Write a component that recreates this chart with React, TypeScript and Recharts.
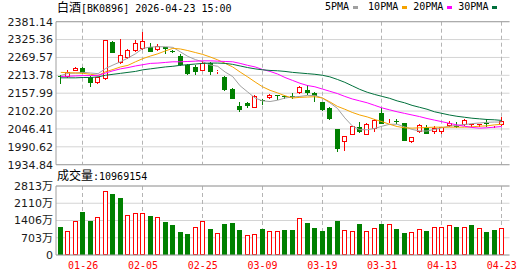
import { ComposedChart, Bar, Line, XAxis, YAxis, CartesianGrid, ReferenceLine, Legend } from 'recharts'

// trading days shown (MM-DD), 2026
const dates = [
  '01-21', '01-22', '01-23', '01-26', '01-27', '01-28', '01-29', '01-30', '02-02', '02-03',
  '02-04', '02-05', '02-06', '02-09', '02-10', '02-11', '02-12', '02-13', '02-24', '02-25',
  '02-26', '02-27', '03-02', '03-03', '03-04', '03-05', '03-06', '03-09', '03-10', '03-11',
  '03-12', '03-13', '03-16', '03-17', '03-18', '03-19', '03-20', '03-23', '03-24', '03-25',
  '03-26', '03-27', '03-30', '03-31', '04-01', '04-02', '04-03', '04-07', '04-08', '04-09',
  '04-10', '04-13', '04-14', '04-15', '04-16', '04-17', '04-20', '04-21', '04-22', '04-23'
]

const opens = [
  2212, 2208, 2228, 2237, 2210, 2189, 2202, 2317, 2253, 2269,
  2290, 2296, 2301, 2292, 2301, 2291, 2274, 2246, 2239, 2228,
  2251, 2223, 2209, 2171, 2118, 2128, 2113, 2136, 2142, 2152,
  2148, 2150, 2158, 2167, 2158, 2130, 2113, 2047, 2007, 2028,
  2052, 2028, 2046, 2097, 2079, 2072, 2065, 2007, 2036, 2049,
  2036, 2038, 2055, 2057, 2058, 2061, 2062, 2066, 2057, 2059
]
const highs = [
  2215, 2229, 2241, 2240, 2212, 2209, 2325, 2320, 2326, 2297,
  2323, 2348, 2314, 2313, 2303, 2292, 2280, 2248, 2245, 2260,
  2255, 2230, 2212, 2173, 2130, 2131, 2153, 2139, 2154, 2153,
  2153, 2160, 2182, 2184, 2161, 2131, 2116, 2047, 2024, 2057,
  2068, 2066, 2078, 2112, 2082, 2078, 2066, 2022, 2062, 2058,
  2056, 2054, 2070, 2068, 2077, 2062, 2063, 2077, 2060, 2083
]
const lows = [
  2188, 2205, 2226, 2218, 2177, 2187, 2200, 2282, 2250, 2266,
  2288, 2294, 2287, 2290, 2280, 2282, 2244, 2215, 2215, 2226,
  2215, 2218, 2166, 2139, 2100, 2113, 2111, 2120, 2140, 2137,
  2140, 2140, 2156, 2153, 2132, 2103, 2075, 1974, 1979, 2026,
  2033, 2026, 2036, 2062, 2066, 2062, 2010, 2002, 2034, 2030,
  2030, 2030, 2053, 2049, 2056, 2051, 2052, 2053, 2049, 2057
]
const closes = [
  2208, 2224, 2237, 2222, 2191, 2208, 2324, 2285, 2276, 2292,
  2314, 2321, 2288, 2306, 2295, 2289, 2246, 2218, 2223, 2251,
  2223, 2228, 2168, 2139, 2106, 2117, 2150, 2134, 2153, 2150,
  2146, 2148, 2178, 2160, 2150, 2106, 2077, 1984, 2024, 2056,
  2036, 2063, 2074, 2063, 2081, 2070, 2010, 2022, 2060, 2031,
  2049, 2052, 2066, 2055, 2075, 2062, 2063, 2064, 2058, 2071
]

const ma5 = [
  2213, 2220, 2221, 2223, 2221, 2219, 2235, 2246, 2256, 2268,
  2281, 2298, 2302, 2303, 2303, 2301, 2287, 2273, 2263, 2256,
  2246, 2242, 2224, 2210, 2181, 2162, 2143, 2134, 2132, 2136,
  2143, 2146, 2148, 2151, 2151, 2143, 2128, 2111, 2081, 2056,
  2044, 2044, 2048, 2055, 2061, 2061, 2053, 2045, 2040, 2040,
  2045, 2050, 2055, 2058, 2060, 2063, 2065, 2067, 2068, 2068
]
const ma10 = [
  2223, 2222, 2221, 2220, 2217, 2213, 2225, 2232, 2240, 2245,
  2256, 2266, 2274, 2281, 2290, 2298, 2296, 2291, 2285, 2279,
  2271, 2262, 2251, 2240, 2224, 2209, 2193, 2178, 2167, 2159,
  2150, 2143, 2145, 2146, 2147, 2143, 2131, 2117, 2108, 2098,
  2090, 2084, 2076, 2069, 2061, 2054, 2050, 2049, 2050, 2051,
  2052, 2052, 2052, 2052, 2052, 2053, 2055, 2056, 2059, 2061
]
const ma20 = [
  2210, 2211, 2212, 2213, 2213, 2214, 2221, 2228, 2234, 2238,
  2243, 2247, 2251, 2252, 2254, 2256, 2256, 2257, 2258, 2259,
  2259, 2258, 2257, 2256, 2251, 2245, 2240, 2232, 2226, 2218,
  2207, 2198, 2189, 2182, 2178, 2171, 2164, 2157, 2148, 2140,
  2134, 2128, 2120, 2112, 2106, 2100, 2095, 2090, 2085, 2079,
  2074, 2069, 2064, 2059, 2055, 2051, 2049, 2050, 2052, 2054
]
const ma30 = [
  2206, 2206, 2206, 2207, 2207, 2209, 2214, 2217, 2220, 2223,
  2226, 2231, 2234, 2237, 2240, 2242, 2245, 2247, 2249, 2251,
  2252, 2252, 2251, 2248, 2243, 2238, 2234, 2231, 2229, 2228,
  2226, 2223, 2221, 2219, 2217, 2214, 2209, 2201, 2192, 2181,
  2170, 2161, 2154, 2148, 2142, 2134, 2128, 2120, 2114, 2108,
  2100, 2095, 2090, 2086, 2083, 2080, 2078, 2076, 2075, 2073
]

// volume in 万
const volumes = [
  1141, 966, 1386, 1753, 1386, 1536, 2596, 2487, 2324, 1631,
  1699, 1699, 1590, 1536, 1345, 1223, 951, 856, 1128, 1386,
  1060, 897, 1264, 1305, 1019, 815, 856, 1060, 966, 966,
  1019, 1019, 1496, 1305, 1101, 978, 1141, 1386, 1006, 966,
  1264, 966, 1087, 1264, 1250, 1060, 897, 938, 1046, 978,
  1128, 1128, 1209, 1141, 1128, 1209, 1087, 932, 1019, 1097
]
// 1 = close above previous close (red), 0 = below (green)
const volUp = [
  0, 1, 1, 0, 0, 1, 1, 0, 0, 1,
  1, 1, 0, 1, 0, 0, 0, 0, 1, 1,
  0, 1, 0, 0, 0, 1, 1, 0, 1, 1,
  0, 0, 1, 0, 0, 0, 0, 0, 1, 1,
  0, 1, 1, 0, 1, 0, 0, 1, 1, 0,
  1, 1, 1, 0, 1, 0, 1, 0, 0, 1
]

const priceTicks = [1934.84, 1990.62, 2046.41, 2102.2, 2157.99, 2213.78, 2269.57, 2325.36, 2381.14]
const volTicks = [0, 703, 1406, 2110, 2813]
const dateTicks = ['01-26', '02-05', '02-25', '03-09', '03-19', '03-31', '04-13', '04-23']
const lastVolume = 10969154

const PRICE_MIN = priceTicks[0]
const PRICE_MAX = priceTicks[priceTicks.length - 1]
const VOL_MAX = volTicks[volTicks.length - 1]

const RED = '#ff0000'
const GREEN = '#008000'
const GRID = '#d4d4d4'
const DASH = '#b4b4b4'
const BORDER = '#a0a0a0'
const MONO = "'DejaVu Sans Mono', 'Noto Sans CJK SC', monospace"

const maSeries = [
  { key: 'ma5', name: '5PMA', color: '#a0a0a0' },
  { key: 'ma10', name: '10PMA', color: '#f5a300' },
  { key: 'ma20', name: '20PMA', color: '#ff00ff' },
  { key: 'ma30', name: '30PMA', color: '#00703c' }
]

const rows = dates.map((date, i) => ({
  date,
  o: opens[i],
  h: highs[i],
  l: lows[i],
  c: closes[i],
  range: [lows[i], highs[i]],
  ma5: ma5[i],
  ma10: ma10[i],
  ma20: ma20[i],
  ma30: ma30[i],
  vol: volumes[i],
  volUp: volUp[i] === 1
}))

const dashLine = (cx: number, y1: number, y2: number) => (
  <line x1={cx} x2={cx} y1={y1} y2={y2} stroke={DASH} strokeWidth={1} strokeDasharray="4 3" />
)

const Candle = (props: any) => {
  const { x, y, width, height, payload } = props
  if (x == null || !payload) return <g />
  const { o, c, h, l } = payload
  // linear price -> pixel, taken from the bar the scale gave us (y = high, y + height = low)
  const toY = (v: number) => y + ((h - v) / (h - l || 1)) * height
  const left = Math.round(x)
  const w = Math.round(width)
  const mid = left + Math.floor(w / 2) + 0.5
  const hi = Math.round(y)
  const lo = Math.round(y + height)
  const top = Math.round(toY(Math.max(o, c)))
  const bot = Math.round(toY(Math.min(o, c)))
  const up = c >= o
  const color = up ? RED : GREEN
  const grid = dateTicks.includes(payload.date) ? dashLine(mid, toY(PRICE_MAX), toY(PRICE_MIN)) : null
  if (bot - top < 1) {
    return (
      <g>
        {grid}
        <line x1={mid} x2={mid} y1={hi} y2={lo} stroke={color} />
        <line x1={left} x2={left + w} y1={top + 0.5} y2={top + 0.5} stroke={color} />
      </g>
    )
  }
  if (up) {
    return (
      <g>
        {grid}
        <line x1={mid} x2={mid} y1={hi} y2={top} stroke={color} />
        <line x1={mid} x2={mid} y1={bot} y2={lo} stroke={color} />
        <rect x={left + 0.5} y={top + 0.5} width={w - 1} height={Math.max(bot - top - 1, 0)} fill="#fff" stroke={color} />
      </g>
    )
  }
  return (
    <g>
      {grid}
      <line x1={mid} x2={mid} y1={hi} y2={lo} stroke={color} />
      <rect x={left} y={top} width={w} height={bot - top} fill={color} />
    </g>
  )
}

const VolumeBar = (props: any) => {
  const { x, y, width, height, payload } = props
  if (x == null || !payload) return <g />
  const left = Math.round(x)
  const w = Math.round(width)
  const top = Math.round(y)
  const bot = Math.round(y + height)
  const mid = left + Math.floor(w / 2) + 0.5
  // y + height is zero volume, y is this bar's volume
  const topOfAxis = y + height - (VOL_MAX / (payload.vol || 1)) * height
  const grid = dateTicks.includes(payload.date) ? dashLine(mid, topOfAxis, y + height) : null
  if (payload.volUp) {
    return (
      <g>
        {grid}
        <rect x={left + 0.5} y={top + 0.5} width={w - 1} height={Math.max(bot - top - 1, 0)} fill="#fff" stroke={RED} />
      </g>
    )
  }
  return (
    <g>
      {grid}
      <rect x={left} y={top} width={w} height={bot - top} fill={GREEN} />
    </g>
  )
}

const DateTick = ({ x, y, payload }: any) => {
  if (!dateTicks.includes(payload.value)) return <g />
  return (
    <text x={x} y={y} dy={14} textAnchor="middle" fill={RED} fontSize={10} fontFamily={MONO}>
      {payload.value}
    </text>
  )
}

const MaLegend = ({ payload }: any) => {
  const items = maSeries.map((s) => (payload || []).find((p: any) => p.value === s.name)).filter(Boolean)
  return (
    <div style={{ display: 'flex', alignItems: 'center', fontFamily: MONO, fontSize: 10, color: '#000', lineHeight: '14px' }}>
      {items.map((item: any, i: number) => (
        <span key={item.value} style={{ display: 'inline-flex', alignItems: 'center', marginRight: i === 0 ? 10 : 6 }}>
          {item.value}
          <span style={{ display: 'inline-block', width: 5, height: 3, background: item.color, marginLeft: 4 }} />
        </span>
      ))}
    </div>
  )
}

const yTick = { fill: '#1a1a1a', fontSize: 11, fontFamily: "'DejaVu Sans', 'Noto Sans CJK SC', sans-serif" }

export default function App() {
  return (
    <div style={{ position: 'relative', width: 530, height: 276, background: '#fff', overflow: 'hidden' }}>
      <style>{'body{margin:0}'}</style>
      <div style={{ position: 'absolute', left: 57, top: 1, fontFamily: MONO, fontSize: 10, lineHeight: '14px', color: '#000', whiteSpace: 'nowrap' }}>
        <span style={{ fontSize: 12 }}>白酒</span>[BK0896] 2026-04-23 15:00
      </div>

      <div style={{ position: 'absolute', left: 0, top: 0 }}>
        <ComposedChart width={530} height={180} data={rows} margin={{ top: 21.7, right: 20.5, bottom: 15.3, left: 0 }}>
          <CartesianGrid vertical={false} stroke={GRID} />
          <XAxis dataKey="date" hide interval={0} padding={{ left: 1, right: 4 }} />
          <YAxis
            domain={[PRICE_MIN, PRICE_MAX]}
            ticks={priceTicks}
            interval={0}
            tickFormatter={(v: number) => v.toFixed(2)}
            width={56}
            tick={yTick}
            tickSize={0}
            tickMargin={3}
            tickLine={false}
            axisLine={{ stroke: BORDER }}
            allowDataOverflow
          />
          <YAxis yAxisId="r" orientation="right" width={0} tick={false} tickLine={false} axisLine={{ stroke: BORDER }} domain={[0, 1]} />
          <ReferenceLine y={PRICE_MAX} stroke={BORDER} />
          <ReferenceLine y={PRICE_MIN} stroke={BORDER} />
          <Bar dataKey="range" barSize={5} shape={<Candle />} legendType="none" isAnimationActive={false} />
          {maSeries.map((s) => (
            <Line
              key={s.key}
              type="linear"
              dataKey={s.key}
              name={s.name}
              stroke={s.color}
              strokeWidth={1}
              dot={false}
              activeDot={false}
              isAnimationActive={false}
            />
          ))}
          <Legend
            layout="horizontal"
            verticalAlign="middle"
            align="center"
            content={<MaLegend />}
            wrapperStyle={{ top: 0, left: 325, width: 200, height: 14 }}
          />
        </ComposedChart>
      </div>

      <div style={{ position: 'absolute', left: 57, top: 169, fontFamily: MONO, fontSize: 10, lineHeight: '14px', color: '#000', whiteSpace: 'nowrap' }}>
        <span style={{ fontSize: 12 }}>成交量</span>:{lastVolume}
      </div>

      <div style={{ position: 'absolute', left: 0, top: 170 }}>
        <ComposedChart width={530} height={106} data={rows} margin={{ top: 16, right: 20.5, bottom: 0, left: 0 }}>
          <CartesianGrid vertical={false} stroke={GRID} />
          <XAxis
            dataKey="date"
            interval={0}
            height={21}
            padding={{ left: 1, right: 4 }}
            tick={<DateTick />}
            tickSize={0}
            tickMargin={0}
            tickLine={false}
            axisLine={{ stroke: BORDER }}
          />
          <YAxis
            domain={[0, VOL_MAX]}
            ticks={volTicks}
            interval={0}
            tickFormatter={(v: number) => (v === 0 ? '0' : `${v}万`)}
            width={56}
            tick={yTick}
            tickSize={0}
            tickMargin={3}
            tickLine={false}
            axisLine={{ stroke: BORDER }}
          />
          <YAxis yAxisId="r" orientation="right" width={0} tick={false} tickLine={false} axisLine={{ stroke: BORDER }} domain={[0, 1]} />
          <ReferenceLine y={VOL_MAX} stroke={BORDER} />
          <Bar dataKey="vol" barSize={5} shape={<VolumeBar />} isAnimationActive={false} />
        </ComposedChart>
      </div>
    </div>
  )
}
